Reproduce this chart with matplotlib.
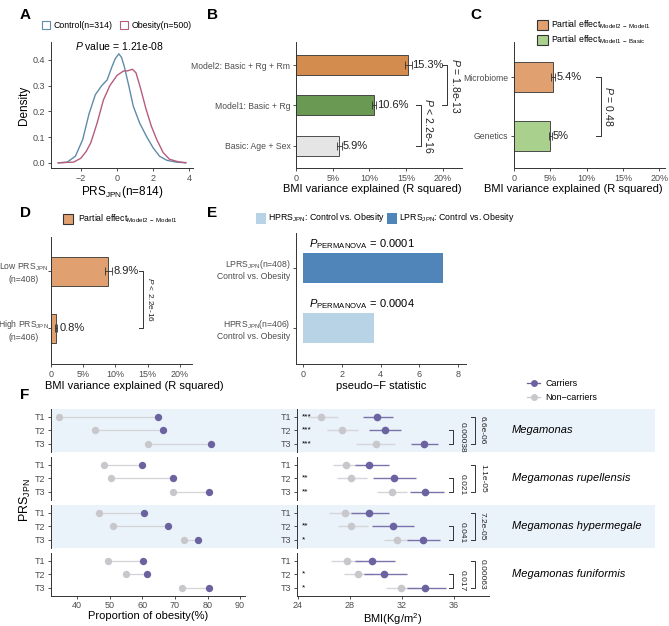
import matplotlib.pyplot as plt
from matplotlib.patches import Rectangle
from matplotlib.lines import Line2D

plt.rcParams['font.family'] = ['Liberation Sans', 'DejaVu Sans']
plt.rcParams['mathtext.fontset'] = 'custom'
plt.rcParams['mathtext.rm'] = 'Liberation Sans'
plt.rcParams['mathtext.it'] = 'Liberation Sans:italic'
plt.rcParams['mathtext.bf'] = 'Liberation Sans:bold'

# ---- data ----
# A: density curves
ctrl_x = [-3.25, -2.75, -2.3, -1.9, -1.55, -1.2, -0.85, -0.55, -0.3, -0.1, 0.1, 0.25, 0.4, 0.65, 0.9, 1.25, 1.65, 2.0, 2.35, 2.75, 3.25, 3.8]
ctrl_y = [0.0, 0.003, 0.026, 0.09, 0.19, 0.265, 0.30, 0.322, 0.37, 0.405, 0.424, 0.41, 0.375, 0.30, 0.22, 0.155, 0.10, 0.058, 0.026, 0.01, 0.003, 0.0]
obes_x = [-3.25, -2.4, -2.0, -1.7, -1.45, -1.1, -0.75, -0.4, 0.0, 0.35, 0.6, 0.85, 1.05, 1.3, 1.6, 1.9, 2.2, 2.55, 2.9, 3.4, 3.8]
obes_y = [0.0, 0.003, 0.018, 0.045, 0.078, 0.155, 0.245, 0.30, 0.34, 0.357, 0.358, 0.364, 0.35, 0.29, 0.21, 0.142, 0.09, 0.04, 0.014, 0.004, 0.001]

# B: R squared of nested models
b_labels = ['Basic: Age + Sex', 'Model1: Basic + Rg', 'Model2: Basic + Rg + Rm']
b_vals = [5.9, 10.6, 15.3]
b_err = [0.3, 0.3, 0.45]
b_text = ['5.9%', '10.6%', '15.3%']

# C: partial effects
c_labels = ['Genetics', 'Microbiome']
c_vals = [5.0, 5.4]
c_err = [0.2, 0.3]
c_text = ['5%', '5.4%']

# D: partial effect by PRS group
d_labels = ['High PRS$_{\\mathrm{JPN}}$\n(n=406)', 'Low PRS$_{\\mathrm{JPN}}$\n(n=408)']
d_vals = [0.8, 8.9]
d_err = [0.2, 0.5]
d_text = ['0.8%', '8.9%']

# E: PERMANOVA pseudo-F
e_labels = ['HPRS$_{\\mathrm{JPN}}$(n=406)\nControl vs. Obesity', 'LPRS$_{\\mathrm{JPN}}$(n=408)\nControl vs. Obesity']
e_vals = [3.66, 7.22]
e_p = ['0.0004', '0.0001']

# F: per species, tertiles T1..T3
species = ['Megamonas', 'Megamonas rupellensis', 'Megamonas hypermegale', 'Megamonas funiformis']
tiers = ['T1', 'T2', 'T3']
prop_nc = [[34.6, 45.5, 61.7], [48.3, 50.4, 69.3], [46.8, 51.0, 72.8], [49.5, 54.9, 72.1]]
prop_c = [[64.9, 66.2, 81.0], [60.0, 69.5, 80.6], [60.6, 68.0, 77.1], [60.3, 61.5, 80.6]]
bmi_nc = [[25.8, 27.4, 30.0], [27.7, 28.1, 31.2], [27.6, 28.1, 31.6], [27.8, 28.6, 31.9]]
bmi_nc_lo = [[24.8, 26.2, 28.5], [26.7, 27.0, 30.1], [26.4, 27.1, 30.6], [26.5, 27.5, 30.8]]
bmi_nc_hi = [[27.1, 28.6, 31.5], [28.8, 29.3, 32.4], [28.8, 29.4, 32.7], [28.9, 29.8, 33.3]]
bmi_c = [[30.1, 30.7, 33.7], [29.5, 31.4, 33.8], [29.5, 31.3, 33.6], [29.7, 30.6, 33.8]]
bmi_c_lo = [[29.0, 29.5, 32.7], [28.4, 29.8, 32.6], [28.1, 29.7, 32.4], [28.4, 29.1, 32.4]]
bmi_c_hi = [[31.3, 31.9, 34.8], [31.0, 33.1, 35.2], [31.0, 32.9, 34.9], [31.5, 32.4, 35.4]]
stars = [['***', '***', '***'], ['', '**', '**'], ['', '**', '*'], ['', '*', '*']]
p_outer = ['6.6e-06', '1.1e-05', '7.2e-05', '0.00063']
p_inner = ['0.00038', '0.021', '0.041', '0.017']

C_CTRL = '#5f8ba8'
C_OBES = '#b65c7d'
C_CARR = '#6b63a0'
C_NONC = '#c8c8cc'
BAND = '#eaf2fa'
DARK = '#333333'

W, H = 669, 626
fig = plt.figure(figsize=(W / 100, H / 100), dpi=100)


def px_axes(l, t, r, b):
    ax = fig.add_axes([l / W, 1 - b / H, (r - l) / W, (b - t) / H])
    ax.set_facecolor('none')
    for s in ['top', 'right']:
        ax.spines[s].set_visible(False)
    for s in ['left', 'bottom']:
        ax.spines[s].set_linewidth(0.7)
        ax.spines[s].set_color(DARK)
    ax.tick_params(length=2.5, width=0.6, color=DARK, labelcolor='#4d4d4d', labelsize=6.5, pad=1.5)
    return ax


def ftext(x, y, s, **kw):
    fig.text(x / W, 1 - y / H, s, **kw)


def fbox(x, y, w, h, fc, ec):
    fig.add_artist(Rectangle((x / W, 1 - (y + h) / H), w / W, h / H, transform=fig.transFigure,
                             facecolor=fc, edgecolor=ec, lw=0.8))


def bracket(ax, x, y0, y1, tick, label, tx, fs):
    ax.plot([x - tick, x, x, x - tick], [y0, y0, y1, y1], color=DARK, lw=0.7, clip_on=False)
    ax.text(tx, (y0 + y1) / 2, label, rotation=-90, ha='center', va='center', fontsize=fs, color='#222222')


# panel letters
for lab, x, y in [('A', 20, 15), ('B', 207, 15), ('C', 470, 15), ('D', 20, 213), ('E', 207, 213), ('F', 20, 395)]:
    ftext(x, y, lab, fontsize=11, fontweight='bold', va='center', ha='left')

# ---- A ----
ax = px_axes(51, 42, 193, 168)
ax.plot(ctrl_x, ctrl_y, color=C_CTRL, lw=1.0)
ax.plot(obes_x, obes_y, color=C_OBES, lw=1.0)
ax.set_xlim(-3.65, 4.2)
ax.set_ylim(-0.02, 0.47)
ax.set_xticks([-2, 0, 2, 4])
ax.set_yticks([0.0, 0.1, 0.2, 0.3, 0.4])
ax.set_yticklabels(['0.0', '0.1', '0.2', '0.3', '0.4'])
ax.set_ylabel('Density', fontsize=8.5, labelpad=2)
ax.set_xlabel('PRS$_{\\mathrm{JPN}}$(n=814)', fontsize=8.5, labelpad=1)
ftext(119, 46, '$P$ value = 1.21e-08', fontsize=7.5, ha='center', va='center')
fbox(42, 21, 8, 8, 'white', C_CTRL)
ftext(54, 25, 'Control(n=314)', fontsize=6.3, va='center')
fbox(120, 21, 8, 8, 'white', C_OBES)
ftext(132, 25, 'Obesity(n=500)', fontsize=6.3, va='center')

# ---- B ----
ax = px_axes(296, 42, 462, 168)
ypos = [1, 2, 3]
ax.barh(ypos, b_vals, height=0.5, color=['#e5e5e5', '#6a9954', '#d48c4e'], edgecolor=DARK, lw=0.6)
ax.errorbar(b_vals, ypos, xerr=b_err, fmt='none', ecolor=DARK, elinewidth=0.6, capsize=3, capthick=0.6)
for v, e, y, t in zip(b_vals, b_err, ypos, b_text):
    ax.text(v + e + 0.1, y, t, va='center', ha='left', fontsize=8, color='#222222')
ax.set_xlim(0, 22.6)
ax.set_ylim(0.45, 3.57)
ax.set_yticks(ypos)
ax.set_yticklabels(b_labels, fontsize=6.2)
ax.set_xticks([0, 5, 10, 15, 20])
ax.set_xticklabels(['0', '5%', '10%', '15%', '20%'])
ax.set_xlabel('BMI variance explained (R squared)', fontsize=8, labelpad=2)
ax.xaxis.set_label_coords(0.46, -0.13)
bracket(ax, 20.6, 3, 2, 0.7, '$P$ = 1.8e-13', 21.8, 7.5)
bracket(ax, 17.0, 2, 1, 0.7, '$P$ < 2.2e-16', 18.1, 7.5)

# ---- C ----
ax = px_axes(514, 42, 665, 168)
ypos = [1, 2]
ax.barh(ypos, c_vals, height=0.52, color=['#a9d08c', '#e0a070'], edgecolor=DARK, lw=0.6)
ax.errorbar(c_vals, ypos, xerr=c_err, fmt='none', ecolor=DARK, elinewidth=0.6, capsize=3, capthick=0.6)
for v, e, y, t in zip(c_vals, c_err, ypos, c_text):
    ax.text(v + e + 0.1, y, t, va='center', ha='left', fontsize=8, color='#222222')
ax.set_xlim(0, 20.8)
ax.set_ylim(0.45, 2.6)
ax.set_yticks(ypos)
ax.set_yticklabels(c_labels, fontsize=6.2)
ax.set_xticks([0, 5, 10, 15, 20])
ax.set_xticklabels(['0', '5%', '10%', '15%', '20%'])
ax.set_xlabel('BMI variance explained (R squared)', fontsize=8, labelpad=2)
ax.xaxis.set_label_coords(0.39, -0.13)
bracket(ax, 12.0, 2, 1, 0.7, '$P$ = 0.48', 13.1, 7.5)
fbox(537, 20, 11, 10, '#e0a070', DARK)
ftext(551, 25, 'Partial effect$_{\\mathrm{Model2\\ -\\ Model1}}$', fontsize=6.3, va='center')
fbox(537, 35, 11, 10, '#a9d08c', DARK)
ftext(551, 40, 'Partial effect$_{\\mathrm{Model1\\ -\\ Basic}}$', fontsize=6.3, va='center')

# ---- D ----
ax = px_axes(51, 237, 192, 364)
ypos = [1, 2]
ax.barh(ypos, d_vals, height=0.51, color='#e0a070', edgecolor=DARK, lw=0.6)
ax.errorbar(d_vals, ypos, xerr=d_err, fmt='none', ecolor=DARK, elinewidth=0.6, capsize=3, capthick=0.6)
for v, e, y, t in zip(d_vals, d_err, ypos, d_text):
    ax.text(v + e + 0.3, y, t, va='center', ha='left', fontsize=8, color='#222222')
ax.set_xlim(0, 21.9)
ax.set_ylim(0.37, 2.6)
ax.set_yticks(ypos)
ax.set_yticklabels(d_labels, fontsize=6.2, ha='center')
ax.tick_params(axis='y', pad=17)
ax.set_xticks([0, 5, 10, 15, 20])
ax.set_xticklabels(['0', '5%', '10%', '15%', '20%'])
ax.set_xlabel('BMI variance explained (R squared)', fontsize=8, labelpad=2)
ax.xaxis.set_label_coords(0.59, -0.13)
bracket(ax, 14.3, 2, 1, 0.7, '$P$ < 2.2e-16', 15.5, 6)
fbox(63, 214, 10, 10, '#e0a070', DARK)
ftext(78, 219, 'Partial effect$_{\\mathrm{Model2\\ -\\ Model1}}$', fontsize=6.3, va='center')

# ---- E ----
ax = px_axes(296, 233, 466, 364)
ypos = [1, 2]
ax.barh(ypos, e_vals, height=0.5, color=['#b8d3e5', '#4f85b8'])
for y, p in zip(ypos, e_p):
    ax.text(0.3, y + 0.4, '$P_{\\mathrm{PERMANOVA}}$ = ' + p, fontsize=8, va='center', ha='left')
ax.set_xlim(-0.36, 8.4)
ax.set_ylim(0.4, 2.58)
ax.set_yticks(ypos)
ax.set_yticklabels(e_labels, fontsize=6.2)
ax.set_xticks([0, 2, 4, 6, 8])
ax.set_xlabel('pseudo\u2212F statistic', fontsize=8, labelpad=2)
fbox(256, 213, 10, 11, '#b8d3e5', 'none')
ftext(268, 218, 'HPRS$_{\\mathrm{JPN}}$: Control vs. Obesity', fontsize=6.3, va='center')
fbox(387, 213, 10, 11, '#4f85b8', 'none')
ftext(399, 218, 'LPRS$_{\\mathrm{JPN}}$: Control vs. Obesity', fontsize=6.3, va='center')

# ---- F ----
facet_tops = [409, 457, 505, 553]
fh = 42.5
for i in [0, 2]:
    t = facet_tops[i]
    fig.add_artist(Rectangle((51 / W, 1 - (t + fh) / H), (655 - 51) / W, fh / H,
                             transform=fig.transFigure, facecolor=BAND, edgecolor='none', zorder=-5))

ty = [3, 2, 1]
for i, sp in enumerate(species):
    t = facet_tops[i]
    last = i == len(species) - 1
    # left: proportion of obesity
    axl = px_axes(51, t, 245, t + fh)
    for k in range(3):
        axl.plot([prop_nc[i][k], prop_c[i][k]], [ty[k], ty[k]], color='#d4d4d8', lw=0.9, zorder=1)
    axl.scatter(prop_nc[i], ty, s=28, color=C_NONC, zorder=3, linewidths=0)
    axl.scatter(prop_c[i], ty, s=28, color=C_CARR, zorder=3, linewidths=0)
    axl.set_xlim(32.0, 91.5)
    axl.set_ylim(0.4, 3.6)
    axl.set_yticks(ty)
    axl.set_yticklabels(tiers)
    axl.set_xticks([40, 50, 60, 70, 80, 90])
    if not last:
        axl.spines['bottom'].set_visible(False)
        axl.tick_params(axis='x', bottom=False, labelbottom=False)
    else:
        axl.set_xlabel('Proportion of obesity(%)', fontsize=8, labelpad=0.5)

    # right: BMI
    axr = px_axes(297, t, 489, t + fh)
    lo_nc = [m - a for m, a in zip(bmi_nc[i], bmi_nc_lo[i])]
    hi_nc = [b - m for m, b in zip(bmi_nc[i], bmi_nc_hi[i])]
    lo_c = [m - a for m, a in zip(bmi_c[i], bmi_c_lo[i])]
    hi_c = [b - m for m, b in zip(bmi_c[i], bmi_c_hi[i])]
    axr.errorbar(bmi_nc[i], ty, xerr=[lo_nc, hi_nc], fmt='o', color=C_NONC, ecolor='#d6d6da',
                 elinewidth=1.0, ms=5.5, mew=0, capsize=0, zorder=2)
    axr.errorbar(bmi_c[i], ty, xerr=[lo_c, hi_c], fmt='o', color=C_CARR, ecolor='#7a73ab',
                 elinewidth=1.0, ms=5.5, mew=0, capsize=0, zorder=3)
    for k in range(3):
        if stars[i][k]:
            axr.text(24.3, ty[k], stars[i][k], fontsize=6, ha='left', va='center')
    axr.set_xlim(23.92, 38.7)
    axr.set_ylim(0.4, 3.6)
    axr.set_yticks(ty)
    axr.set_yticklabels(tiers)
    axr.set_xticks([24, 28, 32, 36])
    bracket(axr, 35.95, 2, 1, 0.3, p_inner[i], 36.6, 6)
    bracket(axr, 37.6, 3, 1, 0.3, p_outer[i], 38.2, 6)
    if not last:
        axr.spines['bottom'].set_visible(False)
        axr.tick_params(axis='x', bottom=False, labelbottom=False)
    else:
        axr.set_xlabel('BMI(Kg/m$^2$)', fontsize=8, labelpad=0.5)

    ftext(512, t + fh / 2, sp, fontsize=8, style='italic', va='center', ha='left')

ftext(25, 500, 'PRS$_{\\mathrm{JPN}}$', fontsize=9, rotation=90, va='center', ha='center')

# F legend
for y, col, lab in [(383, C_CARR, 'Carriers'), (397, C_NONC, 'Non\u2212carriers')]:
    fig.add_artist(Line2D([527 / W, 540 / W], [1 - y / H, 1 - y / H], color=col, lw=0.9,
                          transform=fig.transFigure))
    fig.add_artist(Line2D([533.5 / W], [1 - y / H], marker='o', ms=5, color=col, mew=0,
                          transform=fig.transFigure))
    ftext(545, y, lab, fontsize=6.5, va='center', ha='left')

fig.savefig('out.png', dpi=100)
